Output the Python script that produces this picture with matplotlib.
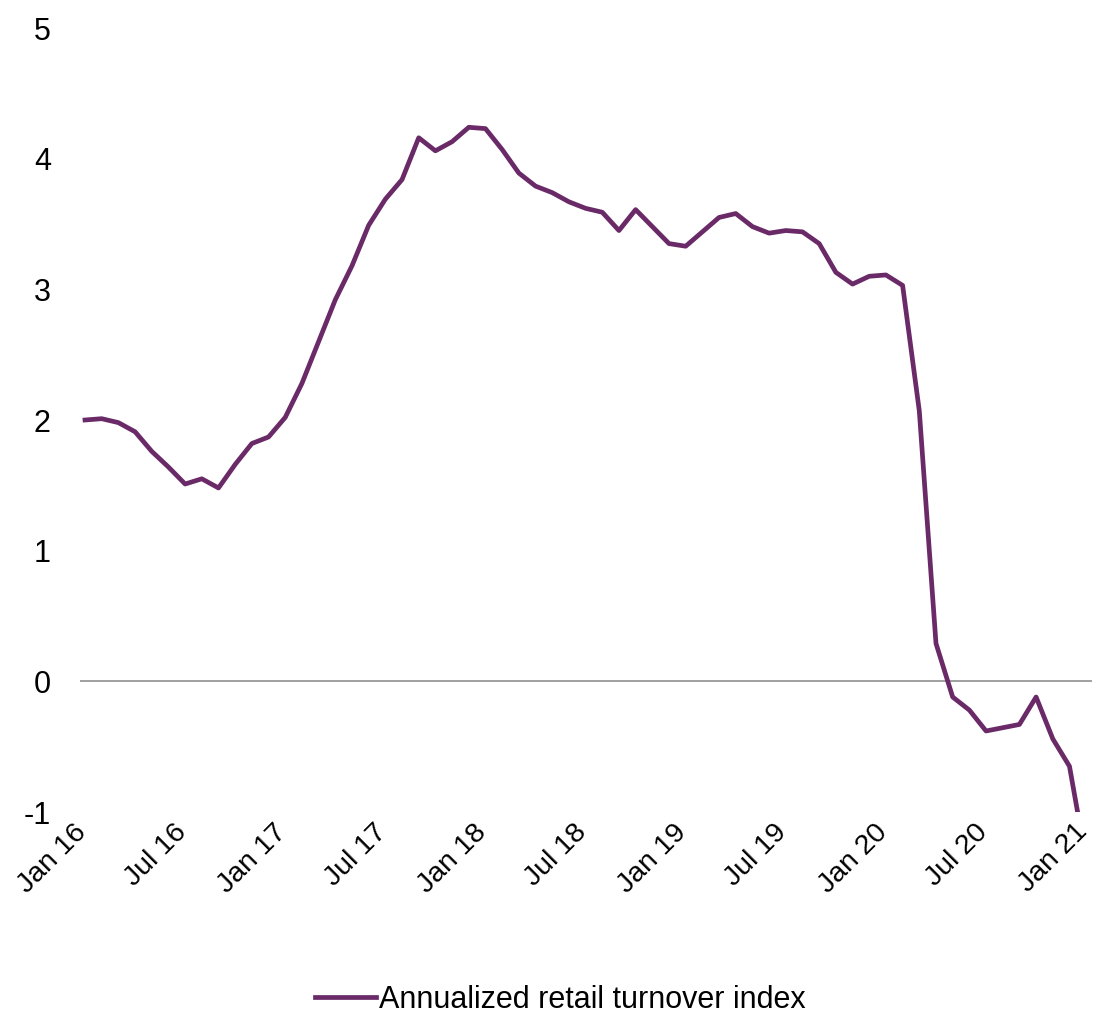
import matplotlib.pyplot as plt
import matplotlib.transforms as mtransforms

plt.rcParams['font.family'] = ['Liberation Sans', 'DejaVu Sans']

# monthly values, Jan 16 .. Jan 21
turnover = [2.00, 2.01, 1.98, 1.91, 1.76, 1.64, 1.51, 1.55, 1.48, 1.66, 1.82, 1.87,
            2.02, 2.28, 2.60, 2.92, 3.18, 3.49, 3.69, 3.84, 4.16, 4.06, 4.13, 4.24,
            4.23, 4.07, 3.89, 3.79, 3.74, 3.67, 3.62, 3.59, 3.45, 3.61, 3.48, 3.35,
            3.33, 3.44, 3.55, 3.58, 3.48, 3.43, 3.45, 3.44, 3.35, 3.13, 3.04, 3.10,
            3.11, 3.03, 2.07, 0.29, -0.12, -0.22, -0.38, -0.355, -0.33, -0.12, -0.44, -0.65,
            -1.37]
tick_labels = ['Jan 16', 'Jul 16', 'Jan 17', 'Jul 17', 'Jan 18', 'Jul 18',
               'Jan 19', 'Jul 19', 'Jan 20', 'Jul 20', 'Jan 21']
y_ticks = [-1, 0, 1, 2, 3, 4, 5]

months = list(range(len(turnover)))
color = '#6A2A68'

fig = plt.figure(figsize=(10.94, 10.17), dpi=100)
ax = fig.add_axes([80 / 1094, 205 / 1017, 1012 / 1094, 784 / 1017])

ax.plot(months, turnover, color=color, lw=3.4, label='Annualized retail turnover index')
ax.axhline(0, color='#999999', lw=1.3, zorder=1)

ax.set_xlim(-0.3, 60.35)
ax.set_ylim(-1, 5)
ax.set_yticks(y_ticks)
ax.set_yticklabels([str(v) for v in y_ticks], fontsize=22)
ax.set_xticks(months[::6])
ax.set_xticklabels(tick_labels, fontsize=20.5, rotation=45, ha='right',
                   rotation_mode='anchor')
ax.tick_params(axis='both', length=0)
ax.tick_params(axis='y', pad=21)
ax.tick_params(axis='x', pad=5)
for s in ax.spines.values():
    s.set_visible(False)

# nudge the date labels a little to the left so "Jan 21" fits
shift = mtransforms.ScaledTranslation(-12 / 100, 0, fig.dpi_scale_trans)
for lbl in ax.get_xticklabels():
    lbl.set_transform(lbl.get_transform() + shift)

fig.legend(loc='center', bbox_to_anchor=(0.512, 0.017), frameon=False,
           fontsize=22, handlelength=2.0, handletextpad=0.1)

fig.savefig('out.png', dpi=100)
